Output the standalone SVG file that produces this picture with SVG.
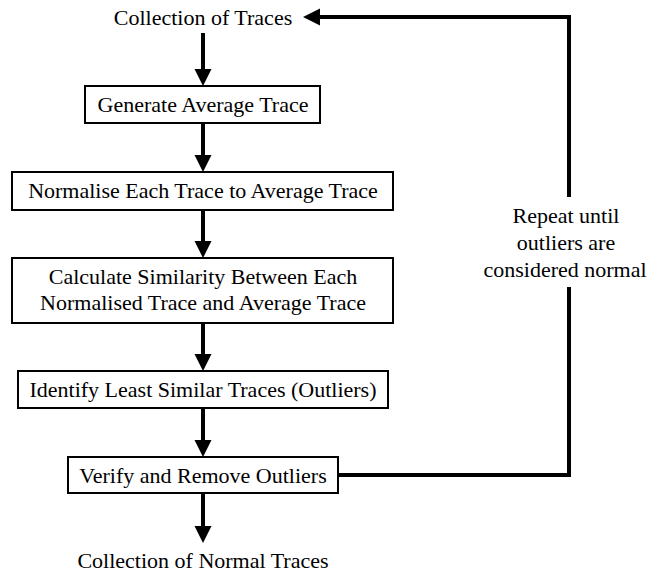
<svg xmlns="http://www.w3.org/2000/svg" width="648" height="574" viewBox="0 0 648 574">
<style>
  .t { font-family: 'Liberation Serif', 'Times New Roman', Times, 'DejaVu Serif', serif; font-size: 22px; fill: #000; text-anchor: middle; }
  .box { fill: #fff; stroke: #000; stroke-width: 2; }
  .conn { fill: none; stroke: #000; stroke-width: 4; }
</style>
<defs>
  <marker id="ah" markerUnits="userSpaceOnUse" markerWidth="18" markerHeight="18" refX="0" refY="8.5" orient="auto" viewBox="0 0 18 17">
    <path d="M0,0 L17,8.5 L0,17 z" fill="#000"/>
  </marker>
</defs>
<g id="connectors">
  <line class="conn" x1="203" y1="33" x2="203" y2="69" marker-end="url(#ah)"/>
  <line class="conn" x1="203" y1="124" x2="203" y2="155" marker-end="url(#ah)"/>
  <line class="conn" x1="203" y1="210" x2="203" y2="241" marker-end="url(#ah)"/>
  <line class="conn" x1="203" y1="323" x2="203" y2="354" marker-end="url(#ah)"/>
  <line class="conn" x1="203" y1="408" x2="203" y2="440" marker-end="url(#ah)"/>
  <line class="conn" x1="203" y1="493" x2="203" y2="526" marker-end="url(#ah)"/>
  <polyline class="conn" points="338,475 569,475 569,287"/>
  <polyline class="conn" points="569,197 569,17 320,17" marker-end="url(#ah)"/>
  <g id="loop-label">
    <text class="t" x="566" y="223">Repeat until</text>
    <text class="t" x="566" y="250">outliers are</text>
    <text class="t" x="565" y="277">considered normal</text>
  </g>
</g>
<g id="start">
  <text class="t" x="203" y="25">Collection of Traces</text>
</g>
<g id="generate">
  <rect class="box" x="85" y="86" width="235" height="37"/>
  <text class="t" x="203" y="112">Generate Average Trace</text>
</g>
<g id="normalise">
  <rect class="box" x="12" y="172" width="381" height="38"/>
  <text class="t" x="203" y="198">Normalise Each Trace to Average Trace</text>
</g>
<g id="similarity">
  <rect class="box" x="12" y="258" width="381" height="65"/>
  <text class="t" x="203" y="284">Calculate Similarity Between Each</text>
  <text class="t" x="203" y="310">Normalised Trace and Average Trace</text>
</g>
<g id="identify">
  <rect class="box" x="18" y="371" width="370" height="37"/>
  <text class="t" x="203" y="397">Identify Least Similar Traces (Outliers)</text>
</g>
<g id="verify">
  <rect class="box" x="68" y="457" width="270" height="36"/>
  <text class="t" x="203" y="483">Verify and Remove Outliers</text>
</g>
<g id="end">
  <text class="t" x="203" y="568">Collection of Normal Traces</text>
</g>
</svg>
